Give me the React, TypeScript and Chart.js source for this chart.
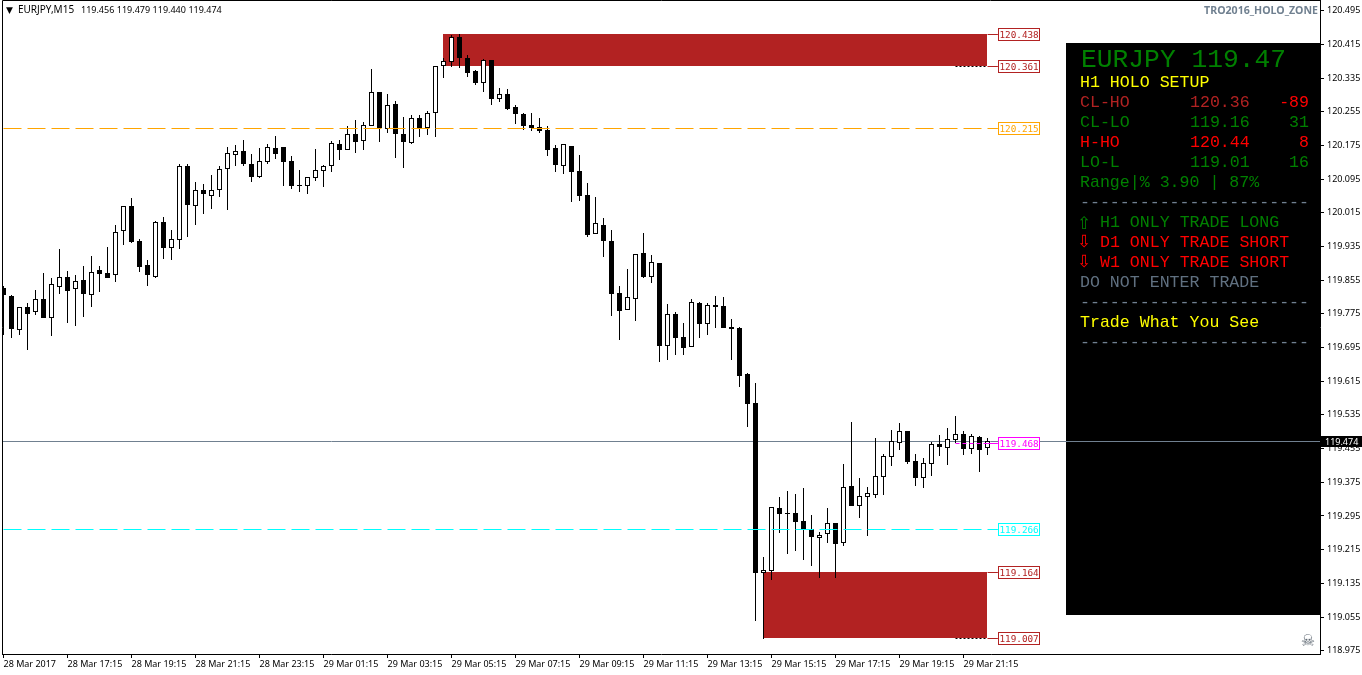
import React, { useEffect, useRef } from "react";
import { Chart, registerables } from "chart.js";

Chart.register(...registerables);

const opens = [
  119.836,119.817,119.736,119.791,119.779,119.810,119.764,119.838,119.862,119.833,
  119.855,119.819,119.879,119.871,119.867,119.971,120.030,119.947,119.890,119.863,
  119.992,119.931,119.950,120.125,120.032,120.068,120.056,120.068,120.118,120.153,
  120.161,120.130,120.101,120.136,120.168,120.171,120.137,120.081,120.079,120.098,
  120.115,120.125,120.178,120.163,120.201,120.185,120.221,120.301,120.213,120.273,
  120.201,120.181,120.239,120.216,120.251,120.363,120.374,120.433,120.383,120.352,
  120.324,120.378,120.286,120.297,120.266,120.250,120.224,120.219,120.212,120.169,
  120.127,120.174,120.114,120.057,119.965,119.986,119.948,119.825,119.785,119.811,
  119.920,119.863,119.896,119.699,119.775,119.720,119.697,119.801,119.752,119.796,
  119.794,119.744,119.741,119.632,119.563,119.160,119.165,119.313,119.302,119.302,
  119.283,119.264,119.243,119.253,119.278,119.232,119.366,119.319,119.340,119.345,
  119.388,119.436,119.469,119.497,119.426,119.385,119.418,119.466,119.456,119.475,
  119.490,119.455,119.483,119.456,
];
const highs = [
  119.840,119.820,119.791,119.801,119.832,119.871,119.859,119.929,119.876,119.867,
  119.889,119.912,119.889,119.934,119.985,120.030,120.049,119.952,119.903,119.995,
  120.004,119.974,120.131,120.131,120.088,120.083,120.105,120.125,120.171,120.175,
  120.188,120.154,120.169,120.178,120.197,120.171,120.150,120.117,120.099,120.167,
  120.128,120.185,120.187,120.220,120.235,120.230,120.356,120.301,120.296,120.280,
  120.242,120.247,120.247,120.257,120.363,120.383,120.437,120.440,120.390,120.354,
  120.380,120.378,120.311,120.309,120.271,120.252,120.252,120.240,120.221,120.176,
  120.178,120.174,120.152,120.086,120.053,120.003,119.974,119.841,119.882,119.916,
  119.967,119.915,119.896,119.798,119.779,119.753,119.810,119.803,119.801,119.817,
  119.815,119.763,119.744,119.635,119.611,119.198,119.316,119.339,119.354,119.347,
  119.361,119.297,119.257,119.314,119.278,119.418,119.518,119.384,119.363,119.480,
  119.442,119.499,119.516,119.497,119.442,119.433,119.471,119.487,119.504,119.532,
  119.497,119.490,119.485,119.479,
];
const lows = [
  119.725,119.718,119.725,119.688,119.772,119.764,119.722,119.821,119.754,119.747,
  119.768,119.792,119.827,119.861,119.851,119.939,119.944,119.875,119.840,119.861,
  119.906,119.904,119.930,119.958,119.987,120.011,120.025,120.053,120.021,120.125,
  120.126,120.088,120.098,120.131,120.143,120.079,120.072,120.064,120.060,120.091,
  120.077,120.113,120.140,120.163,120.158,120.164,120.220,120.182,120.205,120.144,
  120.122,120.179,120.196,120.200,120.196,120.335,120.362,120.359,120.338,120.319,
  120.302,120.271,120.278,120.259,120.226,120.212,120.209,120.205,120.150,120.112,
  120.107,120.041,120.043,119.958,119.965,119.910,119.770,119.713,119.784,119.758,
  119.860,119.848,119.661,119.665,119.677,119.677,119.697,119.718,119.725,119.741,
  119.741,119.665,119.601,119.506,119.046,119.003,119.143,119.255,119.205,119.212,
  119.190,119.176,119.148,119.231,119.148,119.224,119.319,119.290,119.247,119.338,
  119.345,119.414,119.452,119.418,119.366,119.361,119.390,119.437,119.416,119.468,
  119.440,119.442,119.399,119.440,
];
const closes = [
  119.820,119.739,119.791,119.775,119.810,119.764,119.845,119.862,119.830,119.852,
  119.821,119.874,119.870,119.861,119.969,120.030,119.946,119.887,119.868,119.992,
  119.932,119.952,120.125,120.034,120.068,120.060,120.068,120.118,120.156,120.161,
  120.131,120.101,120.137,120.171,120.155,120.136,120.079,120.079,120.099,120.116,
  120.125,120.180,120.163,120.201,120.184,120.223,120.301,120.216,120.270,120.201,
  120.182,120.239,120.216,120.251,120.363,120.375,120.432,120.383,120.347,120.323,
  120.377,120.285,120.296,120.262,120.250,120.221,120.216,120.210,120.164,120.129,
  120.178,120.112,120.055,119.962,119.990,119.948,119.822,119.782,119.814,119.916,
  119.862,119.897,119.699,119.774,119.718,119.694,119.802,119.751,119.795,119.791,
  119.741,119.739,119.627,119.561,119.160,119.166,119.316,119.300,119.300,119.281,
  119.264,119.245,119.250,119.278,119.228,119.363,119.319,119.342,119.349,119.390,
  119.437,119.472,119.496,119.423,119.385,119.420,119.466,119.459,119.477,119.490,
  119.454,119.484,119.452,119.474,
];

const xTickBars = [0, 8, 16, 24, 32, 40, 48, 56, 64, 72, 80, 88, 96, 104, 112, 120];
const xTickLabels = [
  "28 Mar 2017", "28 Mar 17:15", "28 Mar 19:15", "28 Mar 21:15", "28 Mar 23:15",
  "29 Mar 01:15", "29 Mar 03:15", "29 Mar 05:15", "29 Mar 07:15", "29 Mar 09:15",
  "29 Mar 11:15", "29 Mar 13:15", "29 Mar 15:15", "29 Mar 17:15", "29 Mar 19:15", "29 Mar 21:15",
];
const yTicks = [
  120.495, 120.415, 120.335, 120.255, 120.175, 120.095, 120.015, 119.935, 119.855, 119.775,
  119.695, 119.615, 119.535, 119.455, 119.375, 119.295, 119.215, 119.135, 119.055, 118.975,
];

const currentPrice = 119.474;
const orangeLevel = 120.215;
const magentaLevel = 119.468;
const cyanLevel = 119.266;
const upperZone = [120.361, 120.438];
const lowerZone = [119.007, 119.164];
const upperZoneStartBar = 55;
const lowerZoneStartBar = 95;
const lastBar = 123;
const dottedStartBar = 119;
const labelAnchorBar = 124.3;
const levelTags = [120.438, 120.361, 120.215, 119.468, 119.266, 119.164, 119.007];
const levelTagColors = ["#B22222", "#B22222", "#FFA500", "#FF00FF", "#00FFFF", "#B22222", "#B22222"];

const headerName = "EURJPY,M15";
const headerOhlc = ["119.456", "119.479", "119.440", "119.474"];
const cornerText = "TRO2016_HOLO_ZONE";
const panelTitle = "EURJPY 119.47";
const setupTitle = "H1 HOLO SETUP";
const rowNames = ["CL-HO", "CL-LO", "H-HO", "LO-L"];
const rowPrices = ["120.36", "119.16", "120.44", "119.01"];
const rowPips = ["-89", "31", "8", "16"];
const rowColors = ["#B22222", "#008000", "#FF0000", "#008000"];
const rowPipColors = ["#FF0000", "#008000", "#FF0000", "#008000"];
const rangeText = "Range|% 3.90 | 87%";
const separator = "-----------------------";
const trendText = ["H1 ONLY TRADE LONG", "D1 ONLY TRADE SHORT", "W1 ONLY TRADE SHORT"];
const trendArrows = ["\u21E7", "\u21E9", "\u21E9"];
const trendColors = ["#008000", "#FF0000", "#FF0000"];
const adviceText = "DO NOT ENTER TRADE";
const mottoText = "Trade What You See";

const SLATE = "#708090";
const UI_FONT = '"Noto Sans", sans-serif';
const MONO_FONT = '"Liberation Mono", monospace';
const TAG_FONT = '"DejaVu Sans Mono", monospace';

function hLine(label: string, level: number, from: number, to: number, color: string, dash: number[], order: number) {
  return {
    type: "line",
    label,
    yAxisID: "levels",
    data: [{ x: from, y: level }, { x: to, y: level }],
    borderColor: color,
    borderWidth: 1,
    borderDash: dash,
    pointRadius: 0,
    tension: 0,
    fill: false,
    order,
  };
}

const snapPlugin = {
  id: "snap",
  beforeDatasetsDraw(chart: any) {
    chart.data.datasets.forEach((ds: any, idx: number) => {
      const meta = chart.getDatasetMeta(idx);
      if (ds.type === "bar") {
        meta.data.forEach((el: any) => {
          const t = Math.round(el.y);
          let b = Math.round(el.base);
          if (t === b) b = t + 1;
          el.y = t;
          el.base = b;
        });
      } else {
        meta.data.forEach((el: any) => {
          el.y = Math.round(el.y) + 0.5;
        });
      }
    });
  },
};

const panelPlugin = {
  id: "panel",
  beforeDatasetsDraw(chart: any) {
    const { ctx, scales } = chart;
    const x = scales.x;
    const y = scales.levels;
    const area = chart.chartArea;
    ctx.save();

    ctx.fillStyle = "#000000";
    ctx.fillRect(1066, 43, area.right - 1066, 572);

    ctx.fillStyle = "#B22222";
    const zones: [number[], number][] = [[upperZone, upperZoneStartBar], [lowerZone, lowerZoneStartBar]];
    zones.forEach(([z, start]) => {
      const l = Math.floor(x.getPixelForValue(start));
      const r = Math.floor(x.getPixelForValue(lastBar));
      const t = Math.round(y.getPixelForValue(z[1]));
      const b = Math.round(y.getPixelForValue(z[0]));
      ctx.fillRect(l, t, r - l, b - t);
    });

    ctx.textBaseline = "alphabetic";
    ctx.textAlign = "left";
    const left = 1080;
    const priceX = 1190;
    const rightX = 1309;
    const mono = `16.6px ${MONO_FONT}`;
    const baseY = 86.5;
    const step = 20;
    const text = (s: string, tx: number, row: number, color: string, dy = 0) => {
      ctx.fillStyle = color;
      ctx.fillText(s, tx, Math.round(baseY + row * step) + dy);
    };

    ctx.font = `26.3px ${MONO_FONT}`;
    ctx.fillStyle = "#008000";
    ctx.fillText(panelTitle, 1081, 67);

    ctx.font = mono;
    text(setupTitle, left, 0, "#FFFF00");
    rowNames.forEach((n, i) => {
      text(n, left, i + 1, rowColors[i]);
      text(rowPrices[i], priceX, i + 1, rowColors[i]);
      ctx.textAlign = "right";
      text(rowPips[i], rightX, i + 1, rowPipColors[i]);
      ctx.textAlign = "left";
    });
    text(rangeText, left, 5, "#008000");
    text(separator, left, 6, SLATE);
    trendText.forEach((s, i) => {
      text(s, 1100, 7 + i, trendColors[i]);
      ctx.font = `17px "DejaVu Sans", sans-serif`;
      text(trendArrows[i], 1077, 7 + i, trendColors[i], i === 0 ? 2 : 0);
      ctx.font = mono;
    });
    text(adviceText, left, 10, "#607080");
    text(separator, left, 11, SLATE);
    text(mottoText, left, 12, "#FFFF00");
    text(separator, left, 13, SLATE);
    ctx.restore();
  },
};

const overlayPlugin = {
  id: "overlay",
  afterDraw(chart: any) {
    const { ctx, scales } = chart;
    const y = scales.levels;
    const area = chart.chartArea;
    ctx.save();

    ctx.strokeStyle = "#000000";
    ctx.lineWidth = 1;
    ctx.beginPath();
    ctx.moveTo(area.left + 0.5, area.bottom);
    ctx.lineTo(area.left + 0.5, area.top + 0.5);
    ctx.lineTo(area.right, area.top + 0.5);
    ctx.stroke();

    ctx.textBaseline = "alphabetic";
    ctx.textAlign = "left";

    levelTags.forEach((v, i) => {
      const cy = Math.round(y.getPixelForValue(v));
      ctx.fillStyle = "#FFFFFF";
      ctx.fillRect(998, cy - 6, 42, 13);
      ctx.strokeStyle = levelTagColors[i];
      ctx.strokeRect(998.5, cy - 5.5, 41, 12);
      ctx.fillStyle = levelTagColors[i];
      ctx.font = `9.3px ${TAG_FONT}`;
      ctx.fillText(v.toFixed(3), 999.5, cy + 4);
    });

    ctx.fillStyle = "#000000";
    ctx.font = `9px "DejaVu Sans", sans-serif`;
    ctx.fillText("\u25BC", 6, 13);
    ctx.font = `10px ${UI_FONT}`;
    ctx.fillText(headerName, 18, 13);
    ctx.font = `9px ${UI_FONT}`;
    headerOhlc.forEach((s, i) => ctx.fillText(s, 81 + i * 35.8, 13));

    ctx.fillStyle = SLATE;
    ctx.textAlign = "right";
    ctx.font = `bold 10.6px ${UI_FONT}`;
    ctx.fillText(cornerText, 1318, 14);

    ctx.textAlign = "center";
    ctx.fillStyle = "#606A74";
    ctx.font = `16px "DejaVu Sans", sans-serif`;
    ctx.fillText("\u2620", 1308, 646);

    ctx.textAlign = "left";
    const py = Math.round(y.getPixelForValue(currentPrice));
    ctx.fillStyle = "#000000";
    ctx.fillRect(1321, py - 5, 41, 11);
    ctx.fillStyle = "#FFFFFF";
    ctx.font = `9px ${UI_FONT}`;
    ctx.fillText(currentPrice.toFixed(3), 1325, py + 4);
    ctx.restore();
  },
};

export default function App() {
  const ref = useRef<HTMLCanvasElement | null>(null);

  useEffect(() => {
    if (!ref.current) return;
    const bars = opens.map((_, i) => i);
    const chart = new Chart(ref.current, {
      type: "bar",
      data: {
        datasets: [
          hLine("Current price", currentPrice, -0.1875, 164.5625, SLATE, [], 10),
          {
            type: "bar",
            label: "High-Low",
            data: bars.map((i) => ({ x: i, y: [lows[i], highs[i]] })),
            backgroundColor: "#000000",
            borderWidth: 0,
            barThickness: 1,
            grouped: false,
            inflateAmount: 0,
            borderSkipped: false,
            order: 6,
          },
          {
            type: "bar",
            label: "Open-Close",
            data: bars.map((i) => ({ x: i, y: [opens[i], closes[i]] })),
            backgroundColor: (c: any) => (closes[c.dataIndex] >= opens[c.dataIndex] ? "#FFFFFF" : "#000000"),
            borderColor: "#000000",
            borderWidth: 1,
            barThickness: 5,
            grouped: false,
            inflateAmount: 0,
            borderSkipped: false,
            order: 5,
          },
          hLine("Orange level", orangeLevel, 0, labelAnchorBar, "#FFA500", [18, 6], 2),
          hLine("Cyan level", cyanLevel, 0, labelAnchorBar, "#00FFFF", [18, 6], 2),
          hLine("Magenta level", magentaLevel, dottedStartBar, lastBar, "#FF00FF", [4, 3], 2),
          hLine("Magenta link", magentaLevel, lastBar, labelAnchorBar, "#FF00FF", [], 2),
          hLine("Upper top link", upperZone[1], lastBar, labelAnchorBar, "#B22222", [], 2),
          hLine("Upper bottom link", upperZone[0], lastBar, labelAnchorBar, "#B22222", [], 2),
          hLine("Lower top link", lowerZone[1], lastBar, labelAnchorBar, "#B22222", [], 2),
          hLine("Lower bottom link", lowerZone[0], lastBar, labelAnchorBar, "#B22222", [], 2),
          hLine("Upper dots", upperZone[0], dottedStartBar, lastBar, "#000000", [2, 2], 1),
          hLine("Lower dots", lowerZone[0], dottedStartBar, lastBar, "#000000", [2, 2], 1),
        ] as any,
      },
      options: {
        responsive: false,
        animation: false,
        events: [],
        layout: { padding: { left: 2, top: 0, right: 0, bottom: 0 } },
        plugins: { legend: { display: false }, tooltip: { enabled: false }, title: { display: false } },
        scales: {
          x: {
            type: "linear",
            offset: false,
            min: -0.1875,
            max: 164.5625,
            bounds: "data",
            afterBuildTicks: (s: any) => {
              s.ticks = xTickBars.map((v) => ({ value: v }));
            },
            afterFit: (s: any) => {
              s.height = 21;
              s.paddingLeft = 0;
              s.paddingRight = 0;
            },
            border: { display: true, color: "#000000", width: 1 },
            grid: { drawOnChartArea: false, drawTicks: true, tickLength: 4, color: "#000000", offset: false },
            ticks: {
              autoSkip: false,
              maxRotation: 0,
              minRotation: 0,
              align: "start",
              padding: 1,
              color: "#000000",
              font: { family: UI_FONT, size: 9 },
              callback: (_v: any, i: number) => xTickLabels[i],
            },
          },
          y: {
            type: "linear",
            position: "right",
            min: 118.9672,
            max: 120.5204,
            bounds: "data",
            afterBuildTicks: (s: any) => {
              s.ticks = yTicks.map((v) => ({ value: v }));
            },
            afterFit: (s: any) => {
              s.width = 42;
              s.paddingTop = 0;
              s.paddingBottom = 0;
            },
            border: { display: true, color: "#000000", width: 1 },
            grid: { drawOnChartArea: false, drawTicks: true, tickLength: 4, color: "#000000" },
            ticks: {
              autoSkip: false,
              padding: 3,
              color: "#000000",
              font: { family: UI_FONT, size: 9 },
              callback: (v: any) => Number(v).toFixed(3),
            },
          },
          levels: {
            type: "linear",
            display: false,
            position: "right",
            min: 118.96877,
            max: 120.51824,
            bounds: "data",
          },
        },
      } as any,
      plugins: [snapPlugin, panelPlugin, overlayPlugin],
    });
    return () => chart.destroy();
  }, []);

  return (
    <div style={{ position: "absolute", left: 0, top: 0, width: 1362, height: 675, overflow: "hidden", background: "#FFFFFF" }}>
      <canvas ref={ref} width={1362} height={675} style={{ display: "block", width: 1362, height: 675 }} />
    </div>
  );
}
